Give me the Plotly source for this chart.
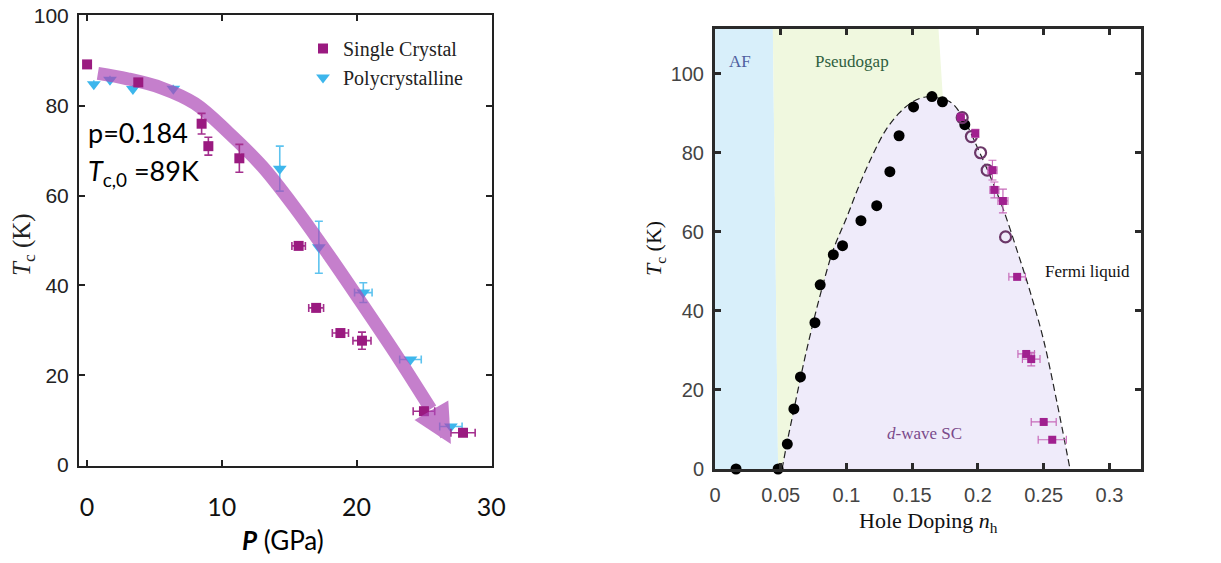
import plotly.graph_objects as go

OFF = 0
W, H = 1221, 563

# ---------------- Left panel data (P in GPa, Tc in K) ----------------
sc_P = [0.0, 3.8, 8.5, 9.0, 11.3, 15.7, 17.0, 18.8, 20.4, 25.0, 27.9]
sc_Tc = [89.2, 85.2, 76.0, 71.0, 68.3, 48.8, 35.0, 29.4, 27.7, 12.0, 7.2]
sc_Perr = [0, 0, 0, 0, 0, 0.5, 0.55, 0.6, 0.67, 0.8, 0.9]
sc_Tcerr = [0, 0, 2.3, 2.0, 3.1, 0, 0, 0, 1.9, 0, 0]

pc_P = [0.5, 1.7, 3.4, 6.4, 14.3, 17.2, 20.5, 24.0, 27.0]
pc_Tc = [84.8, 85.8, 83.7, 83.8, 66.0, 48.5, 38.4, 23.5, 8.6]
pc_Perr = [0, 0, 0, 0, 0, 0, 0.65, 0.8, 0.83]
pc_Tcerr = [0, 0, 0, 0, 5.0, 5.8, 2.2, 0, 0]

arrow_P = [0.8, 3.0, 5.5, 8.0, 10.5, 13.0, 15.5, 18.0, 20.5, 23.0, 25.5]
arrow_Tc = [87.2, 86.0, 84.0, 80.5, 74.0, 66.5, 57.0, 46.5, 35.5, 24.3, 12.5]
arrow_tip = (27.0, 4.7)

left_xticks = [0, 10, 20, 30]
left_yticks = [0, 20, 40, 60, 80, 100]

# ---------------- Right panel data (hole doping, Tc) ----------------
af_n = [0.0, 0.048, 0.044, 0.0]
af_Tc = [0, 0, 111.3, 111.3]
pg_n = [0.048, 0.044, 0.170, 0.1735, 0.1735]
pg_Tc = [0, 111.3, 111.3, 93.0, 0]

dome_n = [0.051, 0.055, 0.060, 0.065, 0.070, 0.080, 0.090, 0.100, 0.110, 0.120,
          0.130, 0.140, 0.150, 0.160, 0.170, 0.180, 0.190, 0.200, 0.210, 0.220,
          0.230, 0.240, 0.250, 0.260, 0.270]
dome_Tc = [0, 7, 15, 23, 30.5, 44, 55.5, 63.5, 72, 79.5,
           85.8, 90, 92.8, 94.1, 93.8, 92.6, 88, 81, 73.5, 65,
           55, 44.5, 32.5, 17, 0]

bk_n = [0.016, 0.048, 0.055, 0.060, 0.065, 0.076, 0.080, 0.090, 0.097, 0.111,
        0.123, 0.133, 0.140, 0.151, 0.165, 0.173, 0.190]
bk_Tc = [0, 0, 6.3, 15.2, 23.3, 37.0, 46.6, 54.2, 56.5, 62.8,
         66.6, 75.2, 84.3, 91.6, 94.2, 92.9, 87.1]

oc_n = [0.188, 0.195, 0.202, 0.207, 0.221]
oc_Tc = [88.9, 84.1, 80.0, 75.6, 58.7]

sq_n = [0.187, 0.198, 0.211, 0.2125, 0.219, 0.2298, 0.2367, 0.2405, 0.250, 0.2565]
sq_Tc = [89.0, 84.9, 75.6, 70.6, 67.8, 48.6, 29.1, 27.8, 11.9, 7.4]
sq_nerr = [0, 0, 0.0035, 0.0034, 0.0038, 0.0063, 0.0063, 0.0067, 0.0095, 0.0107]
sq_Tcerr = [0, 1.0, 2.5, 2.0, 3.0, 0, 0, 1.7, 0, 0]

right_xticks = [0, 0.05, 0.1, 0.15, 0.2, 0.25, 0.3]
right_xticktext = ["0", "0.05", "0.1", "0.15", "0.2", "0.25", "0.3"]
right_yticks = [0, 20, 40, 60, 80, 100]

SC_COL = "#9A1A80"
PC_COL = "#3DB6EC"
BAND_COL = "rgba(172,72,182,0.70)"
SERIF = "Liberation Serif, DejaVu Serif, serif"
CAL = "Lato, Open Sans, sans-serif"

fig = go.Figure()

# ---- left panel ----
fig.add_trace(go.Scatter(
    x=pc_P, y=pc_Tc, mode="markers", name="Polycrystalline",
    legendgroup="b", legendrank=2,
    marker=dict(symbol="triangle-down", size=12, color=PC_COL),
    error_x=dict(type="data", array=pc_Perr, color="#5EC3EF", thickness=1.6, width=4),
    error_y=dict(type="data", array=pc_Tcerr, color="#5EC3EF", thickness=1.6, width=4),
    xaxis="x", yaxis="y", cliponaxis=False))

fig.add_trace(go.Scatter(
    x=arrow_P, y=arrow_Tc, mode="lines", showlegend=False,
    line=dict(color=BAND_COL, width=13, shape="spline"),
    xaxis="x", yaxis="y", hoverinfo="skip"))

fig.add_trace(go.Scatter(
    x=sc_P, y=sc_Tc, mode="markers", name="Single Crystal",
    legendgroup="a", legendrank=1,
    marker=dict(symbol="square", size=10, color=SC_COL),
    error_x=dict(type="data", array=sc_Perr, color="#A42F8E", thickness=1.6, width=4),
    error_y=dict(type="data", array=sc_Tcerr, color="#A42F8E", thickness=1.6, width=4),
    xaxis="x", yaxis="y", cliponaxis=False))

# ---- right panel ----
fig.add_trace(go.Scatter(x=af_n, y=af_Tc, fill="toself", fillcolor="#D8EFFA",
                         mode="none", showlegend=False, xaxis="x2", yaxis="y2",
                         hoverinfo="skip"))
fig.add_trace(go.Scatter(x=pg_n, y=pg_Tc, fill="toself", fillcolor="#F0F8DF",
                         mode="none", showlegend=False, xaxis="x2", yaxis="y2",
                         hoverinfo="skip"))
fig.add_trace(go.Scatter(x=dome_n, y=dome_Tc, fill="toself", fillcolor="#EFEBFA",
                         mode="lines", line=dict(width=0, shape="spline", color="rgba(0,0,0,0)"),
                         showlegend=False, xaxis="x2", yaxis="y2", hoverinfo="skip"))
fig.add_trace(go.Scatter(x=dome_n, y=dome_Tc, mode="lines",
                         line=dict(color="#222222", width=1.2, dash="7px,4px", shape="spline"),
                         showlegend=False, xaxis="x2", yaxis="y2", hoverinfo="skip"))
fig.add_trace(go.Scatter(x=bk_n, y=bk_Tc, mode="markers",
                         marker=dict(symbol="circle", size=11, color="black"),
                         showlegend=False, xaxis="x2", yaxis="y2", cliponaxis=False))
fig.add_trace(go.Scatter(x=oc_n, y=oc_Tc, mode="markers",
                         marker=dict(symbol="circle-open", size=11, color="#6B3768",
                                     line=dict(width=2.2, color="#6B3768")),
                         showlegend=False, xaxis="x2", yaxis="y2"))
fig.add_trace(go.Scatter(
    x=sq_n, y=sq_Tc, mode="markers", showlegend=False,
    marker=dict(symbol="square", size=8, color="#A0208F"),
    error_x=dict(type="data", array=sq_nerr, color="#C76BBA", thickness=1.2, width=4),
    error_y=dict(type="data", array=sq_Tcerr, color="#C76BBA", thickness=1.2, width=4),
    xaxis="x2", yaxis="y2"))


def px_x(p):
    return (p - OFF) / W


def px_y(p):
    return 1 - (p - OFF) / H


annotations = [
    # arrow head
    dict(x=arrow_tip[0], y=arrow_tip[1], ax=arrow_P[-1], ay=arrow_Tc[-1],
         xref="x", yref="y", axref="x", ayref="y", showarrow=True,
         arrowhead=2, arrowsize=0.65, arrowwidth=12, arrowcolor=BAND_COL, text=""),
    dict(x=px_x(86), y=px_y(132), xref="paper", yref="paper", xanchor="left",
         yanchor="middle", text="p=0.184", showarrow=False,
         font=dict(family=CAL, size=27, color="black")),
    dict(x=px_x(86), y=px_y(172), xref="paper", yref="paper", xanchor="left",
         yanchor="middle", text="<i>T</i><sub>c,0</sub> =89K", showarrow=False,
         font=dict(family=CAL, size=27, color="black")),
    dict(x=px_x(283), y=px_y(540), xref="paper", yref="paper", xanchor="center",
         yanchor="middle", text="<b><i>P</i></b> (GPa)", showarrow=False,
         font=dict(family=CAL, size=26, color="black")),
    dict(x=px_x(24), y=px_y(245), xref="paper", yref="paper", xanchor="center",
         yanchor="middle", text="<i>T</i><sub>c</sub> (K)", textangle=-90, showarrow=False,
         font=dict(family=SERIF, size=25, color="#222")),
    # right panel
    dict(x=px_x(655), y=px_y(249), xref="paper", yref="paper", xanchor="center",
         yanchor="middle", text="<i>T</i><sub>c</sub> (K)", textangle=-90, showarrow=False,
         font=dict(family=SERIF, size=22, color="#111")),
    dict(x=px_x(928), y=px_y(522), xref="paper", yref="paper", xanchor="center",
         yanchor="middle", text="Hole Doping <i>n</i><sub>h</sub>", showarrow=False,
         font=dict(family=SERIF, size=22, color="#111")),
    dict(x=0.019, y=103, xref="x2", yref="y2", text="AF", showarrow=False,
         font=dict(family=SERIF, size=17, color="#4F5F9F")),
    dict(x=0.104, y=103, xref="x2", yref="y2", text="Pseudogap", showarrow=False,
         font=dict(family=SERIF, size=17, color="#2F5F40")),
    dict(x=0.283, y=50, xref="x2", yref="y2", text="Fermi liquid", showarrow=False,
         font=dict(family=SERIF, size=17, color="#111")),
    dict(x=0.159, y=9, xref="x2", yref="y2", text="<i>d</i>-wave SC", showarrow=False,
         font=dict(family=SERIF, size=17, color="#7A4A8A")),
]

axis_common = dict(ticks="inside", mirror="ticks", showline=True, showgrid=False,
                   zeroline=False, automargin=False, ticklabeloverflow="allow")

fig.update_layout(
    width=W, height=H, autosize=False,
    margin=dict(l=0, r=0, t=0, b=0),
    paper_bgcolor="white", plot_bgcolor="rgba(0,0,0,0)",
    showlegend=True,
    legend=dict(x=px_x(303), y=px_y(29), xanchor="left", yanchor="top",
                bgcolor="rgba(0,0,0,0)", tracegroupgap=0,
                font=dict(family=SERIF, size=20, color="#222"), itemwidth=30),
    xaxis=dict(domain=[px_x(79), px_x(492)], range=[-0.6, 30.05], anchor="y",
               tickvals=left_xticks, ticklen=6, tickwidth=2, linewidth=2,
               linecolor="#222", tickcolor="#222", ticklabelstandoff=18,
               tickfont=dict(family=CAL, size=25, color="#111"),
               **axis_common),
    yaxis=dict(domain=[px_y(466), px_y(15)], range=[-0.2, 100.2], anchor="x",
               tickvals=left_yticks, ticklen=6, tickwidth=2, linewidth=2,
               linecolor="#222", tickcolor="#222", ticklabelstandoff=4,
               tickfont=dict(family="Liberation Sans Narrow, Liberation Sans, Arial, sans-serif",
                             size=21, color="#222"),
               **axis_common),
    xaxis2=dict(domain=[px_x(715), px_x(1141)], range=[0, 0.324], anchor="y2",
                tickvals=right_xticks, ticktext=right_xticktext, ticklen=6, tickwidth=2.5,
                linewidth=3, linecolor="#2a2a2a", tickcolor="#2a2a2a", ticklabelstandoff=6,
                tickfont=dict(family="Liberation Sans, Arial, sans-serif", size=20, color="#444"),
                **axis_common),
    yaxis2=dict(domain=[px_y(469), px_y(29)], range=[0, 111.3], anchor="x2",
                tickvals=right_yticks, ticklen=6, tickwidth=2.5,
                linewidth=3, linecolor="#2a2a2a", tickcolor="#2a2a2a", ticklabelstandoff=4,
                tickfont=dict(family="Liberation Sans, Arial, sans-serif", size=20, color="#444"),
                **axis_common),
    annotations=annotations,
)

# remove the default 8px page margin so the figure fills the window exactly
fig.write_html("out.html", config={"displayModeBar": False},
               post_script="document.body.style.margin='0px';")
